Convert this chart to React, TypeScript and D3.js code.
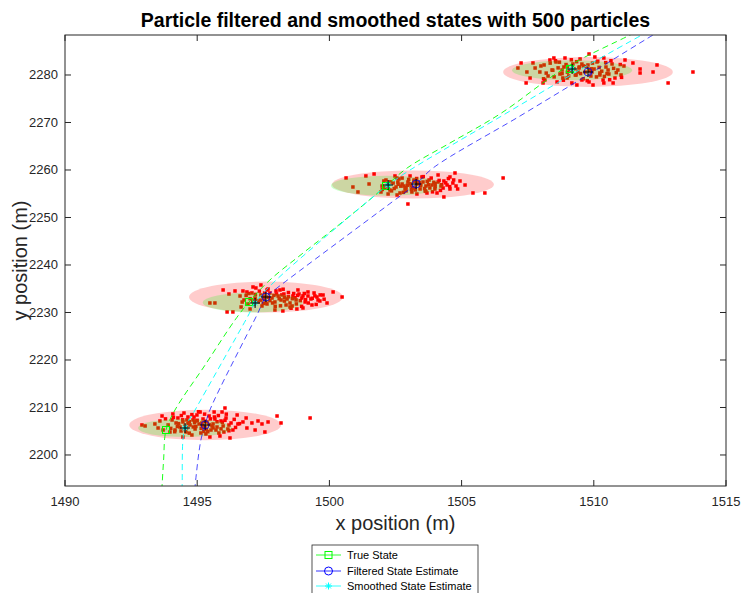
import React from "react";
import * as d3 from "d3";

const X_TICKS = [1490, 1495, 1500, 1505, 1510, 1515];
const Y_TICKS = [2200, 2210, 2220, 2230, 2240, 2250, 2260, 2270, 2280];
const X_DOMAIN = [1490, 1515];
const Y_DOMAIN = [2193.47, 2288.42];

const TITLE = "Particle filtered and smoothed states with 500 particles";
const X_LABEL = "x position (m)";
const Y_LABEL = "y position (m)";
const LEGEND_LABELS = ["True State", "Filtered State Estimate", "Smoothed State Estimate"];

// trajectories [x, y]
const trueLine = [
  [1493.64, 2190.53], [1493.67, 2193.47], [1493.73, 2198.95], [1493.82, 2205.26], [1494.16, 2209.47],
  [1495.3, 2218.95], [1496.43, 2228.42], [1496.96, 2232.21], [1497.75, 2236.84], [1498.96, 2242.32],
  [1500.21, 2247.79], [1501.42, 2253.26], [1502.14, 2256.63], [1502.94, 2260.42], [1504.56, 2265.68],
  [1506.45, 2271.79], [1508.91, 2281.47], [1511.37, 2288.42], [1511.94, 2290.1],
];
const smoothedLine = [
  [1494.41, 2190.53], [1494.43, 2193.47], [1494.46, 2203.16], [1494.54, 2205.68], [1494.92, 2209.47],
  [1496.88, 2228.84], [1497.19, 2232.0], [1497.87, 2236.21], [1501.65, 2254.32], [1502.22, 2256.84],
  [1503.05, 2260.0], [1506.45, 2271.16], [1509.59, 2281.47], [1511.82, 2288.42], [1512.39, 2290.1],
];
const filteredLine = [
  [1494.88, 2190.53], [1494.92, 2193.47], [1495.14, 2203.16], [1495.3, 2206.32], [1495.48, 2209.47],
  [1497.26, 2229.47], [1497.6, 2233.26], [1498.02, 2235.16], [1502.37, 2253.26], [1503.28, 2257.05],
  [1503.92, 2260.42], [1507.21, 2271.37], [1510.08, 2281.05], [1512.24, 2288.42], [1512.81, 2290.3],
];

// markers at the four displayed steps
const trueStates = [[1493.82, 2205.26], [1496.96, 2232.21], [1502.14, 2256.63], [1509.1, 2281.26]];
const filteredStates = [[1495.3, 2206.32], [1497.6, 2233.26], [1503.28, 2257.05], [1509.78, 2280.63]];
const smoothedStates = [[1494.54, 2205.68], [1497.19, 2232.0], [1502.22, 2256.84], [1509.18, 2281.26]];

// covariance ellipses: [cx, cy, rx, ry]
const filteredEllipses = [
  [1495.3, 2206.32, 2.87, 3.2], [1497.6, 2233.26, 2.91, 3.26],
  [1503.16, 2256.95, 3.06, 2.95], [1509.78, 2280.63, 3.21, 3.16],
];
const smoothedEllipses = [
  [1494.54, 2205.68, 1.78, 1.9], [1497.1, 2232.1, 1.89, 2.1],
  [1502.18, 2256.7, 2.12, 2.1], [1509.18, 2281.0, 2.27, 2.1],
];

const particles1 = [
  [1492.91, 2206.32], [1493.03, 2206.11], [1493.67, 2208.21], [1494.08, 2208.63], [1494.46, 2203.79],
  [1495.48, 2203.79], [1496.24, 2203.58], [1495.94, 2209.05], [1496.05, 2209.89], [1496.51, 2208.42],
  [1496.54, 2206.53], [1496.73, 2206.95], [1496.88, 2205.68], [1497.07, 2206.74], [1497.19, 2205.26],
  [1497.3, 2207.16], [1497.45, 2206.53], [1497.56, 2204.84], [1497.68, 2206.95], [1498.02, 2208.21],
  [1498.17, 2206.74], [1499.27, 2207.79], [1496.85, 2207.79], [1496.35, 2205.26],
  [1493.9, 2206.32], [1494.05, 2207.37], [1494.16, 2205.26], [1494.27, 2207.79], [1494.35, 2205.89],
  [1494.46, 2206.95], [1494.58, 2204.84], [1494.65, 2208.0], [1494.73, 2206.32], [1494.84, 2207.37],
  [1494.92, 2205.47], [1494.99, 2208.42], [1495.07, 2206.53], [1495.14, 2204.63], [1495.22, 2207.58],
  [1495.29, 2205.89], [1495.37, 2206.95], [1495.45, 2208.21], [1495.52, 2205.26], [1495.6, 2206.53],
  [1495.67, 2207.58], [1495.75, 2205.89], [1495.82, 2204.63], [1495.9, 2207.16], [1495.98, 2206.11],
  [1496.09, 2207.79], [1496.16, 2205.47], [1496.28, 2206.74], [1493.97, 2204.84], [1494.2, 2206.74],
  [1494.5, 2208.84], [1494.8, 2204.21], [1495.11, 2209.05], [1495.33, 2204.42], [1495.64, 2209.05],
  [1495.86, 2204.0], [1493.52, 2205.68], [1493.71, 2205.26], [1493.4, 2206.53], [1493.59, 2207.16],
  [1494.54, 2206.11], [1494.95, 2207.16], [1495.25, 2204.96], [1495.56, 2206.11], [1494.88, 2207.99],
  [1494.61, 2207.37], [1495.18, 2206.74], [1495.71, 2205.26], [1494.39, 2205.05], [1496.01, 2204.84],
  [1494.1, 2207.9], [1494.25, 2206.0], [1494.4, 2208.3], [1494.55, 2205.3], [1494.7, 2207.0],
  [1494.85, 2205.9], [1495.0, 2207.3], [1495.15, 2205.6], [1495.3, 2207.1], [1495.45, 2206.4],
  [1495.6, 2205.7], [1495.75, 2207.0], [1495.9, 2205.5], [1496.05, 2207.3], [1496.2, 2206.3],
  [1494.3, 2206.6], [1494.65, 2206.6], [1494.95, 2206.0], [1495.28, 2208.6], [1495.5, 2207.6],
  [1495.8, 2208.3], [1496.1, 2208.6], [1494.8, 2208.5], [1494.15, 2204.9], [1494.7, 2204.6],
  [1495.4, 2204.9], [1496.4, 2207.5], [1496.6, 2206.6], [1493.8, 2207.6], [1494.0, 2205.6],
  [1495.05, 2209.1], [1496.2, 2205.1], [1494.45, 2207.4], [1495.65, 2208.0], [1495.95, 2206.9],
  [1494.9, 2206.8], [1495.2, 2206.2], [1495.35, 2205.4], [1494.6, 2205.7], [1496.45, 2205.8],
];

const particles2 = [
  [1495.48, 2232.0], [1495.67, 2232.0], [1495.98, 2234.74], [1496.2, 2233.89], [1496.43, 2234.53],
  [1496.13, 2230.11], [1496.35, 2230.11], [1496.66, 2231.16], [1496.88, 2234.32], [1497.11, 2235.37],
  [1497.41, 2235.79], [1497.64, 2234.74], [1500.48, 2233.26], [1499.91, 2232.0], [1499.76, 2233.68],
  [1500.14, 2234.32], [1499.57, 2232.63], [1498.51, 2231.16], [1498.77, 2230.74], [1499.0, 2230.95],
  [1499.34, 2231.58], [1498.24, 2230.32], [1497.94, 2230.53], [1498.13, 2234.74],
  [1496.62, 2233.47], [1496.77, 2232.63], [1496.92, 2231.79], [1497.07, 2234.11], [1497.19, 2233.05],
  [1497.3, 2232.21], [1497.41, 2233.68], [1497.53, 2232.84], [1497.64, 2231.79], [1497.75, 2234.11],
  [1497.83, 2233.05], [1497.94, 2232.21], [1498.06, 2233.47], [1498.17, 2232.63], [1498.28, 2233.89],
  [1498.4, 2232.84], [1498.51, 2232.0], [1498.62, 2233.47], [1498.74, 2232.63], [1498.85, 2233.89],
  [1498.96, 2233.05], [1499.08, 2232.21], [1499.19, 2233.47], [1499.3, 2232.84], [1499.42, 2234.11],
  [1499.53, 2233.26], [1499.64, 2232.42], [1498.36, 2231.58], [1497.45, 2231.37], [1497.98, 2234.53],
  [1498.81, 2234.74], [1499.19, 2234.32], [1497.0, 2230.74], [1496.73, 2234.53], [1497.68, 2234.95],
  [1498.59, 2231.37], [1497.22, 2235.16], [1497.26, 2232.5], [1498.3, 2233.2], [1497.9, 2233.6],
  [1498.7, 2233.1], [1497.55, 2233.3],
  [1496.7, 2232.2], [1496.85, 2233.6], [1497.0, 2232.9], [1497.15, 2231.7], [1497.35, 2234.5],
  [1497.5, 2231.9], [1497.7, 2233.2], [1497.85, 2232.0], [1498.0, 2233.9], [1498.15, 2231.4],
  [1498.3, 2232.4], [1498.45, 2234.2], [1498.6, 2232.9], [1498.75, 2231.8], [1498.9, 2232.5],
  [1499.05, 2234.0], [1499.2, 2232.0], [1499.35, 2233.0], [1499.5, 2231.7], [1499.65, 2233.7],
  [1497.2, 2233.8], [1497.55, 2234.1], [1497.95, 2231.3], [1498.25, 2234.9], [1498.55, 2230.9],
  [1498.95, 2231.3], [1499.1, 2232.7], [1499.45, 2233.5], [1497.4, 2232.6], [1498.1, 2232.9],
  [1498.45, 2233.3], [1498.8, 2233.6], [1497.75, 2232.5], [1496.95, 2234.0], [1499.8, 2232.8],
  [1499.0, 2233.5], [1498.2, 2233.7], [1497.6, 2232.0], [1497.1, 2232.4], [1498.65, 2234.0],
];

const particles3 = [
  [1500.63, 2258.32], [1500.89, 2256.42], [1501.38, 2258.74], [1501.69, 2259.16], [1501.08, 2255.37],
  [1501.5, 2257.05], [1501.95, 2255.37], [1502.97, 2252.84], [1504.75, 2259.37], [1505.43, 2255.16],
  [1505.88, 2255.16], [1506.57, 2258.32], [1504.33, 2254.32], [1503.69, 2255.16], [1503.31, 2254.95],
  [1502.56, 2254.74], [1505.13, 2256.84], [1504.94, 2257.68], [1504.56, 2258.53], [1504.11, 2258.95],
  [1501.99, 2256.63], [1502.14, 2257.89], [1502.29, 2255.79], [1502.41, 2257.26], [1502.52, 2256.42],
  [1502.63, 2258.11], [1502.75, 2257.05], [1502.86, 2256.0], [1502.97, 2257.47], [1503.09, 2256.63],
  [1503.2, 2257.89], [1503.31, 2257.05], [1503.43, 2256.0], [1503.54, 2257.47], [1503.65, 2256.63],
  [1503.77, 2257.89], [1503.88, 2256.84], [1503.99, 2256.0], [1504.11, 2257.47], [1504.22, 2256.63],
  [1504.33, 2257.68], [1504.45, 2256.84], [1504.56, 2256.0], [1504.67, 2257.26], [1504.79, 2256.63],
  [1502.22, 2254.95], [1502.67, 2255.16], [1503.12, 2255.37], [1503.62, 2255.58], [1504.07, 2255.16],
  [1502.48, 2258.74], [1503.05, 2258.74], [1503.5, 2258.53], [1502.06, 2257.68], [1502.59, 2257.47],
  [1503.24, 2256.21], [1503.8, 2256.21], [1502.82, 2256.63], [1503.35, 2257.47], [1502.9, 2256.3],
  [1503.45, 2256.7], [1504.0, 2257.1],
  [1502.1, 2256.3], [1502.3, 2257.5], [1502.45, 2256.1], [1502.6, 2257.0], [1502.75, 2258.3],
  [1502.9, 2255.6], [1503.05, 2257.1], [1503.15, 2256.2], [1503.3, 2258.2], [1503.45, 2256.9],
  [1503.6, 2256.1], [1503.7, 2257.6], [1503.85, 2258.3], [1504.0, 2256.5], [1504.15, 2257.8],
  [1504.3, 2256.2], [1504.4, 2257.3], [1504.55, 2256.5], [1504.7, 2257.9], [1502.35, 2255.6],
  [1502.8, 2255.3], [1503.25, 2255.8], [1503.9, 2255.4], [1504.2, 2255.7], [1502.55, 2258.3],
  [1503.0, 2258.0], [1503.55, 2258.6], [1504.5, 2258.2], [1502.2, 2257.1], [1502.7, 2256.6],
  [1503.4, 2257.3], [1503.75, 2256.9], [1504.25, 2256.9], [1503.1, 2255.9], [1502.95, 2256.8],
  [1503.65, 2255.5], [1504.85, 2256.0], [1502.0, 2255.9], [1503.2, 2257.6], [1503.95, 2257.4],
];

const particles4 = [
  [1507.25, 2282.53], [1507.7, 2282.53], [1508.49, 2283.58], [1509.82, 2284.42], [1507.44, 2278.32],
  [1508.08, 2278.32], [1508.83, 2279.37], [1509.36, 2277.89], [1509.97, 2277.89], [1510.38, 2278.32],
  [1510.73, 2278.32], [1511.18, 2283.16], [1511.48, 2282.53], [1511.75, 2281.26], [1511.75, 2280.42],
  [1512.24, 2280.63], [1512.39, 2282.11], [1512.81, 2278.32], [1513.75, 2280.63], [1510.38, 2283.58],
  [1510.23, 2280.0],
  [1507.78, 2281.47], [1507.96, 2280.63], [1508.12, 2282.11], [1508.27, 2279.79], [1508.42, 2281.05],
  [1508.57, 2282.74], [1508.72, 2280.21], [1508.87, 2281.68], [1508.99, 2279.37], [1509.1, 2280.84],
  [1509.21, 2282.32], [1509.33, 2280.0], [1509.44, 2281.47], [1509.55, 2278.95], [1509.67, 2280.63],
  [1509.78, 2282.11], [1509.89, 2279.79], [1510.01, 2281.26], [1510.12, 2282.74], [1510.23, 2280.42],
  [1510.35, 2278.95], [1510.46, 2281.68], [1510.57, 2280.21], [1510.69, 2282.32], [1510.8, 2279.37],
  [1510.91, 2281.05], [1511.03, 2280.0], [1511.14, 2281.89], [1508.61, 2278.53], [1509.17, 2278.32],
  [1509.82, 2278.53], [1508.34, 2283.16], [1508.91, 2283.58], [1509.48, 2283.37], [1510.04, 2283.79],
  [1507.47, 2280.63], [1507.59, 2279.37], [1507.13, 2281.47], [1508.15, 2278.95], [1508.8, 2281.05],
  [1509.4, 2280.63], [1509.93, 2280.63], [1510.54, 2281.05], [1509.0, 2281.8], [1509.6, 2281.9],
  [1508.0, 2281.9], [1508.2, 2280.4], [1508.35, 2282.5], [1508.5, 2279.6], [1508.65, 2281.5],
  [1508.8, 2280.3], [1508.95, 2282.2], [1509.05, 2279.8], [1509.25, 2281.3], [1509.35, 2282.8],
  [1509.5, 2280.3], [1509.6, 2279.2], [1509.7, 2281.8], [1509.85, 2280.9], [1509.95, 2282.5],
  [1510.1, 2279.6], [1510.2, 2281.6], [1510.3, 2280.8], [1510.45, 2282.6], [1510.6, 2279.0],
  [1510.75, 2281.4], [1510.85, 2280.5], [1511.0, 2282.2], [1508.1, 2279.2], [1508.55, 2283.0],
  [1509.15, 2283.2], [1509.75, 2278.8], [1510.4, 2279.7], [1508.85, 2278.9], [1510.65, 2283.0],
  [1508.45, 2281.0], [1509.3, 2280.0], [1509.9, 2281.3], [1510.5, 2280.3], [1509.0, 2280.6],
  [1509.55, 2282.3], [1510.15, 2282.9], [1508.7, 2282.7], [1511.05, 2279.5], [1509.45, 2281.7],
];

const particleSets = [particles1, particles2, particles3, particles4];

const W = 741;
const H = 593;
const M = { left: 65, right: 726, top: 35, bottom: 486 };

const GREEN = "#00ff00";
const CYAN = "#00ffff";
const BLUE = "#0000ff";
const AX = "#262626";
const FONT = "'Liberation Sans', Arial, Helvetica, sans-serif";

export default function App() {
  const x = d3.scaleLinear().domain(X_DOMAIN).range([M.left, M.right]);
  const y = d3.scaleLinear().domain(Y_DOMAIN).range([M.bottom, M.top]);
  const line = d3.line<number[]>().x((d) => x(d[0])).y((d) => y(d[1])).curve(d3.curveCatmullRom);

  const ellipse = (e: number[], fill: string, key: string) => (
    <ellipse
      key={key}
      cx={x(e[0])}
      cy={y(e[1])}
      rx={x(e[0] + e[2]) - x(e[0])}
      ry={y(e[1]) - y(e[1] + e[3])}
      fill={fill}
      fillOpacity={0.2}
    />
  );

  const plus = (px: number, py: number, key: string) => (
    <g key={key} stroke="#000" strokeWidth={1}>
      <line x1={px - 5} x2={px + 5} y1={py} y2={py} />
      <line x1={px} x2={px} y1={py - 5} y2={py + 5} />
    </g>
  );

  const asterisk = (px: number, py: number, key: string, s = 3.5) => (
    <g key={key} stroke={CYAN} strokeWidth={1}>
      <line x1={px - s} x2={px + s} y1={py} y2={py} />
      <line x1={px} x2={px} y1={py - s} y2={py + s} />
      <line x1={px - s * 0.7} x2={px + s * 0.7} y1={py - s * 0.7} y2={py + s * 0.7} />
      <line x1={px - s * 0.7} x2={px + s * 0.7} y1={py + s * 0.7} y2={py - s * 0.7} />
    </g>
  );

  const midX = (M.left + M.right) / 2;
  const midY = (M.top + M.bottom) / 2;

  const legendX = 312;
  const legendY = 545;
  const legendRows = [555, 571, 586];

  return (
    <svg
      width={W}
      height={H}
      style={{ position: "absolute", left: 0, top: 0, background: "#fff" }}
      fontFamily={FONT}
    >
      <defs>
        <clipPath id="plotClip">
          <rect x={M.left} y={M.top} width={M.right - M.left} height={M.bottom - M.top} />
        </clipPath>
      </defs>
      <rect x={0} y={0} width={W} height={H} fill="#fff" />

      <g clipPath="url(#plotClip)">
        {filteredEllipses.map((e, i) => ellipse(e, "#ff0000", "fe" + i))}
        {particleSets.map((set, i) =>
          set.map((p, j) => (
            <rect key={`p${i}-${j}`} x={x(p[0]) - 1.75} y={y(p[1]) - 1.75} width={3.5} height={3.5} fill="#ff0000" />
          ))
        )}
        {smoothedEllipses.map((e, i) => ellipse(e, "#00ff00", "se" + i))}

        <path d={line(trueLine) || ""} fill="none" stroke={GREEN} strokeWidth={0.9} strokeDasharray="6,4" />
        <path d={line(smoothedLine) || ""} fill="none" stroke={CYAN} strokeWidth={0.9} strokeDasharray="6,4" />
        <path d={line(filteredLine) || ""} fill="none" stroke={BLUE} strokeWidth={0.7} strokeDasharray="6,4" />

        {trueStates.map((p, i) => (
          <rect key={"ts" + i} x={x(p[0]) - 3.5} y={y(p[1]) - 3.5} width={7} height={7} fill="none" stroke={GREEN} strokeWidth={1} />
        ))}
        {filteredStates.map((p, i) => (
          <circle key={"fs" + i} cx={x(p[0])} cy={y(p[1])} r={4} fill="none" stroke={BLUE} strokeWidth={0.8} />
        ))}
        {smoothedStates.map((p, i) => asterisk(x(p[0]), y(p[1]), "ss" + i))}
        {smoothedStates.map((p, i) => plus(x(p[0]), y(p[1]), "ps" + i))}
        {filteredStates.map((p, i) => plus(x(p[0]), y(p[1]), "pf" + i))}
      </g>

      {/* axes box */}
      <rect x={M.left} y={M.top} width={M.right - M.left} height={M.bottom - M.top} fill="none" stroke={AX} strokeWidth={1} />
      {X_TICKS.map((t) => (
        <g key={"xt" + t}>
          <line x1={x(t)} x2={x(t)} y1={M.bottom} y2={M.bottom - 6} stroke={AX} />
          <line x1={x(t)} x2={x(t)} y1={M.top} y2={M.top + 6} stroke={AX} />
          <text x={x(t)} y={M.bottom + 20} textAnchor="middle" fontSize={13} fill={AX}>
            {t}
          </text>
        </g>
      ))}
      {Y_TICKS.map((t) => (
        <g key={"yt" + t}>
          <line x1={M.left} x2={M.left + 6} y1={y(t)} y2={y(t)} stroke={AX} />
          <line x1={M.right} x2={M.right - 6} y1={y(t)} y2={y(t)} stroke={AX} />
          <text x={M.left - 7} y={y(t) + 4.5} textAnchor="end" fontSize={13} fill={AX}>
            {t}
          </text>
        </g>
      ))}

      <text x={midX} y={27} textAnchor="middle" fontSize={19.5} fontWeight="bold" fill="#000">
        {TITLE}
      </text>
      <text x={midX} y={530} textAnchor="middle" fontSize={20} fill={AX}>
        {X_LABEL}
      </text>
      <text transform={`translate(27,${midY}) rotate(-90)`} textAnchor="middle" fontSize={20} fill={AX}>
        {Y_LABEL}
      </text>

      {/* legend */}
      <rect x={legendX} y={legendY} width={166} height={60} fill="#fff" stroke={AX} strokeWidth={0.8} />
      {LEGEND_LABELS.map((lab, i) => {
        const ly = legendRows[i];
        const col = [GREEN, BLUE, CYAN][i];
        return (
          <g key={"lg" + i}>
            <line x1={316} x2={341} y1={ly} y2={ly} stroke={col} strokeWidth={0.8} />
            {i === 0 && <rect x={325} y={ly - 3.5} width={7} height={7} fill="none" stroke={GREEN} />}
            {i === 1 && <circle cx={328.5} cy={ly} r={4} fill="none" stroke={BLUE} />}
            {i === 2 && asterisk(328.5, ly, "la")}
            <text x={347} y={ly + 4} fontSize={11} fill="#000">
              {lab}
            </text>
          </g>
        );
      })}
    </svg>
  );
}
